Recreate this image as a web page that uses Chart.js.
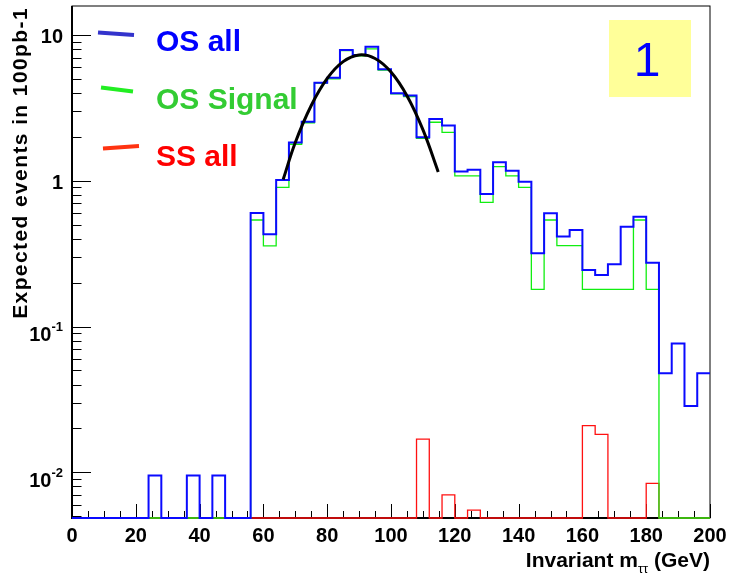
<!DOCTYPE html>
<html>
<head>
<meta charset="utf-8">
<script src="https://cdn.jsdelivr.net/npm/chart.js@4.4.1/dist/chart.umd.min.js"></script>
<style>
  html, body { margin: 0; padding: 0; background: #ffffff; }
  #wrap { width: 731px; height: 576px; }
</style>
</head>
<body>
<div id="wrap"><canvas id="c" width="731" height="576"></canvas></div>
<script>
// Histogram binning: 50 bins of 4 GeV from 0 to 200
const binLow = [0, 4, 8, 12, 16, 20, 24, 28, 32, 36, 40, 44, 48, 52, 56, 60, 64, 68, 72, 76,
                80, 84, 88, 92, 96, 100, 104, 108, 112, 116, 120, 124, 128, 132, 136, 140, 144, 148, 152, 156,
                160, 164, 168, 172, 176, 180, 184, 188, 192, 196];
const binHigh = 200;

// Expected events per bin (100 pb^-1)
const osAll = [0, 0, 0, 0, 0, 0, 0.0095, 0, 0, 0.0095, 0, 0.0095, 0, 0, 0.60, 0.43, 1.01, 1.83, 2.54, 4.71,
               5.09, 7.89, 7.29, 8.31, 5.82, 3.98, 3.84, 1.99, 2.65, 2.39, 1.155, 1.19, 0.81, 1.34, 1.17, 0.986, 0.318, 0.598, 0.414, 0.46,
               0.244, 0.226, 0.267, 0.484, 0.567, 0.274, 0.0479, 0.0764, 0.0285, 0.0479];
const osSignal = [0, 0, 0, 0, 0, 0, 0, 0, 0, 0, 0, 0, 0, 0, 0.538, 0.357, 0.90, 1.78, 2.50, 4.67,
                  4.99, 7.80, 7.18, 8.02, 5.75, 3.94, 3.78, 1.95, 2.52, 2.15, 1.08, 1.08, 0.71, 1.25, 1.08, 0.90, 0.18, 0.538, 0.359, 0.359,
                  0.18, 0.18, 0.18, 0.18, 0.538, 0.18, 0, 0, 0, 0];
const ssAll = [0, 0, 0, 0, 0, 0, 0, 0, 0, 0, 0, 0, 0, 0, 0, 0, 0, 0, 0, 0,
               0, 0, 0, 0, 0, 0, 0, 0.0169, 0, 0.0070, 0, 0.0055, 0, 0, 0, 0, 0, 0, 0, 0,
               0.0209, 0.0182, 0, 0, 0, 0.0084, 0, 0, 0, 0];

// Gaussian fit over the Z peak, sampled along the curve
const fitX = [66.2, 70, 75, 80, 85, 90, 95, 100, 105, 110, 114.8];
const fitY = [1.02, 1.83, 3.28, 5.03, 6.56, 7.29, 6.90, 5.57, 3.83, 2.24, 1.15];

// Axes
const xRange = [0, 200];
const yRange = [0.00486, 15.8];
const xMajorTicks = [0, 20, 40, 60, 80, 100, 120, 140, 160, 180, 200];
const yMajorTicks = [0.01, 0.1, 1, 10];
const yTickLabels = [['10', '-2'], ['10', '-1'], ['1', ''], ['10', '']];

const legendLabels = ['OS all', 'OS Signal', 'SS all'];
const padLabel = '1';

const FONT = '"Liberation Sans", Arial, Helvetica, sans-serif';

// Build step points at bin edges; empty bins sit on the frame floor
function histPoints(values) {
  const pts = values.map((v, i) => ({ x: binLow[i], y: v > 0 ? v : yRange[0] }));
  const last = values[values.length - 1];
  pts.push({ x: binHigh, y: last > 0 ? last : yRange[0] });
  return pts;
}

const rootStyle = {
  id: 'rootStyle',
  beforeDatasetsDraw(chart) {
    const { ctx, chartArea: a } = chart;
    const xs = chart.scales.x, ys = chart.scales.y;
    ctx.save();
    ctx.strokeStyle = '#000';
    // frame
    ctx.lineWidth = 1;
    ctx.strokeRect(a.left, a.top, a.right - a.left, a.bottom - a.top);
    // axis lines
    ctx.lineWidth = 2;
    ctx.beginPath();
    ctx.moveTo(a.left, a.top); ctx.lineTo(a.left, a.bottom); ctx.lineTo(a.right, a.bottom);
    ctx.stroke();
    // x ticks (inward)
    ctx.lineWidth = 1;
    ctx.beginPath();
    for (let v = xRange[0]; v <= xRange[1]; v += 5) {
      const px = Math.round(xs.getPixelForValue(v)) + 0.5;
      const len = (v % 20 === 0) ? 14 : 7;
      ctx.moveTo(px, a.bottom); ctx.lineTo(px, a.bottom - len);
    }
    // y ticks (inward), decades and 2..9 subdivisions
    for (let e = -3; e <= 1; e++) {
      const d = Math.pow(10, e);
      for (let k = 1; k <= 9; k++) {
        const v = k * d;
        if (v < yRange[0] || v > yRange[1]) continue;
        const py = Math.round(ys.getPixelForValue(v)) + 0.5;
        const len = (k === 1) ? 19 : 9.5;
        ctx.moveTo(a.left, py); ctx.lineTo(a.left + len, py);
      }
    }
    ctx.stroke();
    ctx.restore();
  },
  afterDraw(chart) {
    const { ctx, chartArea: a } = chart;
    const xs = chart.scales.x, ys = chart.scales.y;
    ctx.save();
    ctx.fillStyle = '#000';

    // x tick labels
    ctx.font = 'bold 20px ' + FONT;
    ctx.textAlign = 'center';
    ctx.textBaseline = 'middle';
    xMajorTicks.forEach(v => ctx.fillText(String(v), xs.getPixelForValue(v), 536));

    // y tick labels with exponents
    ctx.textBaseline = 'middle';
    yMajorTicks.forEach((v, i) => {
      const py = ys.getPixelForValue(v);
      const [base, exp] = yTickLabels[i];
      const right = 63;
      if (exp) {
        ctx.font = 'bold 13px ' + FONT;
        ctx.textAlign = 'right';
        ctx.fillText(exp, right, py + 1);
        const w = ctx.measureText(exp).width;
        ctx.font = 'bold 20px ' + FONT;
        ctx.fillText(base, right - w, py + 9);
      } else {
        ctx.font = 'bold 20px ' + FONT;
        ctx.textAlign = 'right';
        ctx.fillText(base, right, py + 3);
      }
    });

    // y axis title
    ctx.save();
    ctx.translate(21, 7);
    ctx.rotate(-Math.PI / 2);
    ctx.font = 'bold 21px ' + FONT;
    ctx.letterSpacing = '1.4px';
    ctx.textAlign = 'right';
    ctx.textBaseline = 'middle';
    ctx.fillText('Expected events in 100pb-1', 0, 0);
    ctx.restore();

    // x axis title with subscript
    ctx.textBaseline = 'alphabetic';
    ctx.textAlign = 'left';
    const t1 = 'Invariant m', sub = 'ττ', t2 = ' (GeV)';
    ctx.font = 'bold 21px ' + FONT;
    const w1 = ctx.measureText(t1).width, w3 = ctx.measureText(t2).width;
    ctx.font = '13px ' + FONT;
    const w2 = ctx.measureText(sub).width;
    let x0 = 710 - (w1 + w2 + w3);
    ctx.font = 'bold 21px ' + FONT;
    ctx.fillText(t1, x0, 567);
    ctx.font = '13px ' + FONT;
    ctx.fillText(sub, x0 + w1, 573);
    ctx.font = 'bold 21px ' + FONT;
    ctx.fillText(t2, x0 + w1 + w2, 567);

    // legend
    const legColors = ['#3333cc', '#22ee22', '#ff3311'];
    const txtColors = ['#0000ff', '#33cc33', '#ff0000'];
    const segs = [[98, 32.5, 134, 35], [101, 87.5, 133, 91.5], [103, 148.5, 139, 146]];
    const baselines = [51, 109, 166];
    ctx.lineCap = 'butt';
    legendLabels.forEach((lab, i) => {
      const s = segs[i];
      ctx.strokeStyle = legColors[i];
      ctx.lineWidth = 4;
      ctx.beginPath(); ctx.moveTo(s[0], s[1]); ctx.lineTo(s[2], s[3]); ctx.stroke();
      ctx.fillStyle = txtColors[i];
      ctx.font = 'bold 30px ' + FONT;
      ctx.textAlign = 'left';
      ctx.fillText(lab, 156, baselines[i]);
    });

    // pad label box
    ctx.fillStyle = '#ffff99';
    ctx.fillRect(609, 20, 82, 77);
    ctx.fillStyle = '#0000ff';
    ctx.font = '48px ' + FONT;
    ctx.textAlign = 'center';
    ctx.fillText(padLabel, 647, 76);

    ctx.restore();
  }
};

new Chart(document.getElementById('c'), {
  type: 'scatter',
  data: {
    datasets: [
      { label: 'fit', data: fitX.map((x, i) => ({ x, y: fitY[i] })), showLine: true,
        borderColor: '#000', borderWidth: 3, pointRadius: 0, tension: 0.4, order: 0, clip: false },
      { label: legendLabels[0], data: histPoints(osAll), showLine: true, stepped: 'before',
        borderColor: '#0a0aff', borderWidth: 2, pointRadius: 0, order: 1, clip: false },
      { label: legendLabels[1], data: histPoints(osSignal), showLine: true, stepped: 'before',
        borderColor: '#11ee11', borderWidth: 1.3, pointRadius: 0, order: 2, clip: false },
      { label: legendLabels[2], data: histPoints(ssAll), showLine: true, stepped: 'before',
        borderColor: '#ff1111', borderWidth: 1.3, pointRadius: 0, order: 3, clip: false }
    ]
  },
  options: {
    responsive: false,
    animation: false,
    devicePixelRatio: 1,
    layout: { padding: { left: 72, top: 6, right: 21, bottom: 58 } },
    plugins: { legend: { display: false }, tooltip: { enabled: false } },
    scales: {
      x: { type: 'linear', min: xRange[0], max: xRange[1], display: false },
      y: { type: 'logarithmic', min: yRange[0], max: yRange[1], display: false }
    }
  },
  plugins: [rootStyle]
});
</script>
</body>
</html>
